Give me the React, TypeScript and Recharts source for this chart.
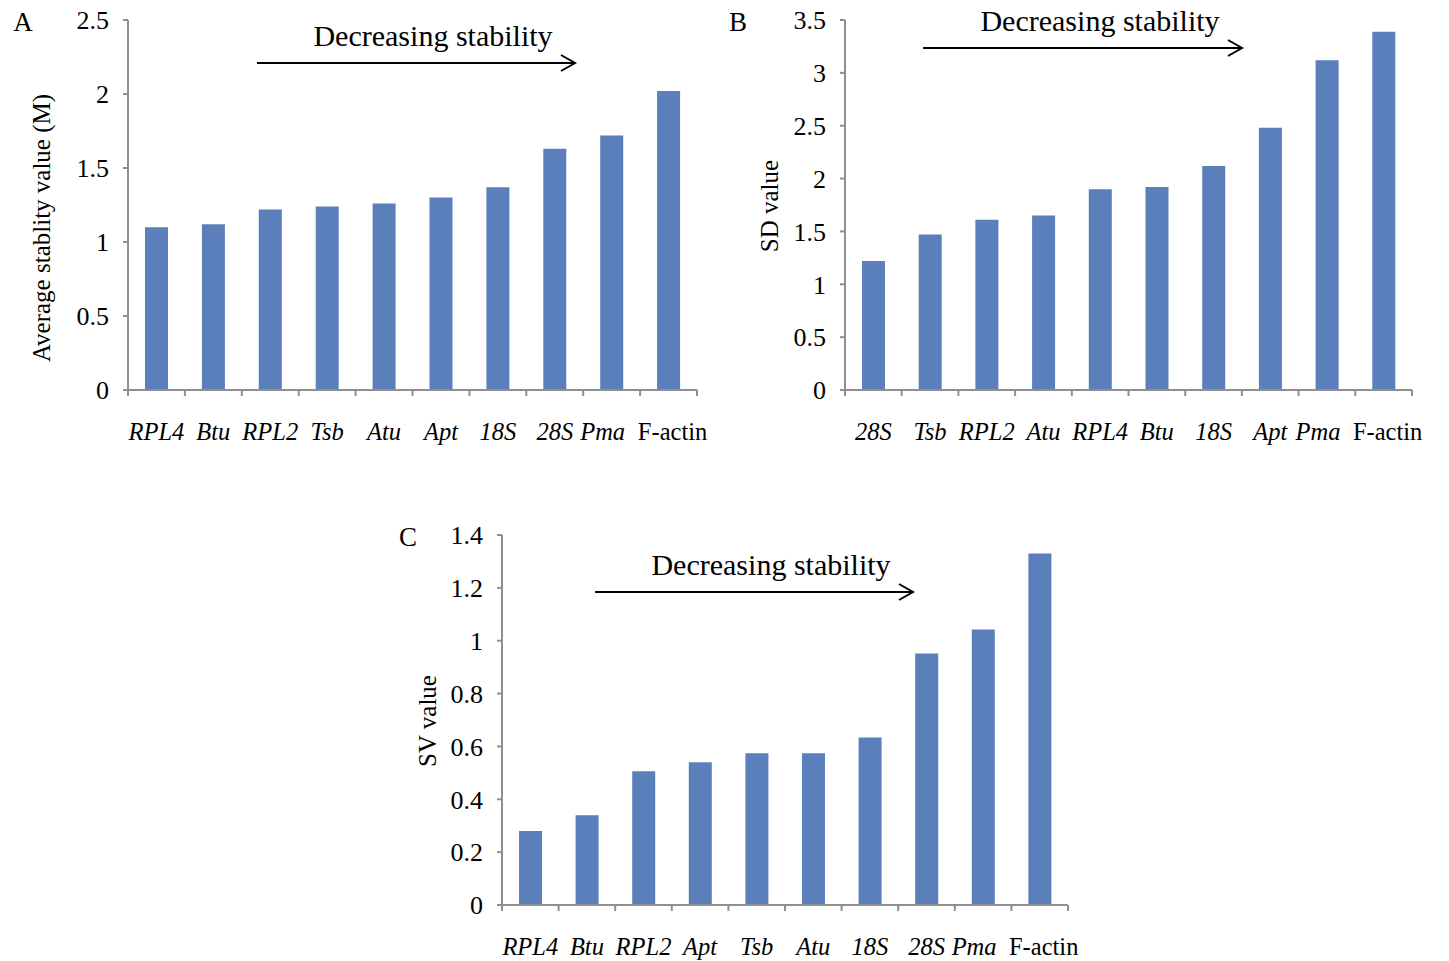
import React from "react";
import { BarChart, Bar, XAxis, YAxis } from "recharts";

const genesA = ["RPL4", "Btu", "RPL2", "Tsb", "Atu", "Apt", "18S", "28S", "Pma", "F-actin"];
const valuesA = [1.1, 1.12, 1.22, 1.24, 1.26, 1.3, 1.37, 1.63, 1.72, 2.02];
const ticksA = [0, 0.5, 1, 1.5, 2, 2.5];

const genesB = ["28S", "Tsb", "RPL2", "Atu", "RPL4", "Btu", "18S", "Apt", "Pma", "F-actin"];
const valuesB = [1.22, 1.47, 1.61, 1.65, 1.9, 1.92, 2.12, 2.48, 3.12, 3.39];
const ticksB = [0, 0.5, 1, 1.5, 2, 2.5, 3, 3.5];

const genesC = ["RPL4", "Btu", "RPL2", "Apt", "Tsb", "Atu", "18S", "28S", "Pma", "F-actin"];
const valuesC = [0.28, 0.34, 0.506, 0.54, 0.574, 0.574, 0.634, 0.952, 1.042, 1.33];
const ticksC = [0, 0.2, 0.4, 0.6, 0.8, 1, 1.2, 1.4];

const FONT = "'Liberation Serif', 'Times New Roman', serif";
const BAR = "#5b7fba";
const AXIS = "#8f8f8f";

// the last two labels are pushed apart a little so they don't run together
const labelNudge = (i: number) => (i === 8 ? -9 : i === 9 ? 4 : 0);

function CatTick(props: any) {
  const { x, y, payload, index, band } = props;
  const italic = payload.value !== "F-actin";
  const left = x - band / 2;
  return (
    <g>
      <line x1={left} y1={y} x2={left} y2={y + 6} stroke={AXIS} strokeWidth={2} />
      {index === 9 && (
        <line x1={x + band / 2} y1={y} x2={x + band / 2} y2={y + 6} stroke={AXIS} strokeWidth={2} />
      )}
      <text
        x={x + labelNudge(index)}
        y={y + 50}
        textAnchor="middle"
        fontFamily={FONT}
        fontSize={24.5}
        fontStyle={italic ? "italic" : "normal"}
        fill="#000"
      >
        {payload.value}
      </text>
    </g>
  );
}

interface PanelProps {
  genes: string[];
  values: number[];
  ticks: number[];
  left: number;
  top: number;
  width: number;
  yWidth: number;
}

function Panel({ genes, values, ticks, left, top, width, yWidth }: PanelProps) {
  const data = genes.map((g, i) => ({ gene: g, value: values[i] }));
  const plotW = width - yWidth - 23;
  const band = plotW / genes.length;
  return (
    <div style={{ position: "absolute", left, top }}>
      <BarChart
        width={width}
        height={460}
        data={data}
        margin={{ top: 20, right: 23, left: 0, bottom: 0 }}
      >
        <XAxis
          dataKey="gene"
          height={70}
          stroke={AXIS}
          strokeWidth={2}
          tickLine={false}
          tickSize={0}
          tickMargin={0}
          interval={0}
          tick={<CatTick band={band} />}
        />
        <YAxis
          width={yWidth}
          domain={[ticks[0], ticks[ticks.length - 1]]}
          ticks={ticks}
          stroke={AXIS}
          strokeWidth={2}
          tickSize={5}
          tickMargin={14}
          tick={{ fontFamily: FONT, fontSize: 26, fill: "#000" }}
        />
        <Bar dataKey="value" fill={BAR} barSize={23} isAnimationActive={false} />
      </BarChart>
    </div>
  );
}

function Arrow({ x1, x2, y }: { x1: number; x2: number; y: number }) {
  return (
    <g stroke="#000" strokeWidth={2} fill="none">
      <line x1={x1} y1={y} x2={x2} y2={y} />
      <polyline points={`${x2 - 14},${y - 8} ${x2},${y} ${x2 - 14},${y + 8}`} />
    </g>
  );
}

export default function App() {
  const t = { fontFamily: FONT, fill: "#000" };
  return (
    <div style={{ position: "absolute", left: 0, top: 0, width: 1449, height: 961, background: "#fff" }}>
      <Panel genes={genesA} values={valuesA} ticks={ticksA} left={0} top={0} width={720} yWidth={128} />
      <Panel genes={genesB} values={valuesB} ticks={ticksB} left={720} top={0} width={715} yWidth={125} />
      <Panel genes={genesC} values={valuesC} ticks={ticksC} left={380} top={515} width={711} yWidth={122} />
      <svg
        width={1449}
        height={961}
        style={{ position: "absolute", left: 0, top: 0, pointerEvents: "none" }}
      >
        <text x={23} y={31} textAnchor="middle" fontSize={27} {...t}>A</text>
        <text x={738} y={31} textAnchor="middle" fontSize={27} {...t}>B</text>
        <text x={408} y={546} textAnchor="middle" fontSize={27} {...t}>C</text>

        <text x={433} y={46} textAnchor="middle" fontSize={30} {...t}>Decreasing stability</text>
        <text x={1100} y={31} textAnchor="middle" fontSize={30} {...t}>Decreasing stability</text>
        <text x={771} y={575} textAnchor="middle" fontSize={30} {...t}>Decreasing stability</text>

        <Arrow x1={257} x2={575} y={63} />
        <Arrow x1={923} x2={1242} y={48} />
        <Arrow x1={595} x2={913} y={592} />

        <text x={50} y={228} textAnchor="middle" fontSize={25} transform="rotate(-90 50 228)" {...t}>
          Average stablity value (M)
        </text>
        <text x={778} y={206} textAnchor="middle" fontSize={25} transform="rotate(-90 778 206)" {...t}>
          SD value
        </text>
        <text x={436} y={721} textAnchor="middle" fontSize={25} transform="rotate(-90 436 721)" {...t}>
          SV value
        </text>
      </svg>
    </div>
  );
}
